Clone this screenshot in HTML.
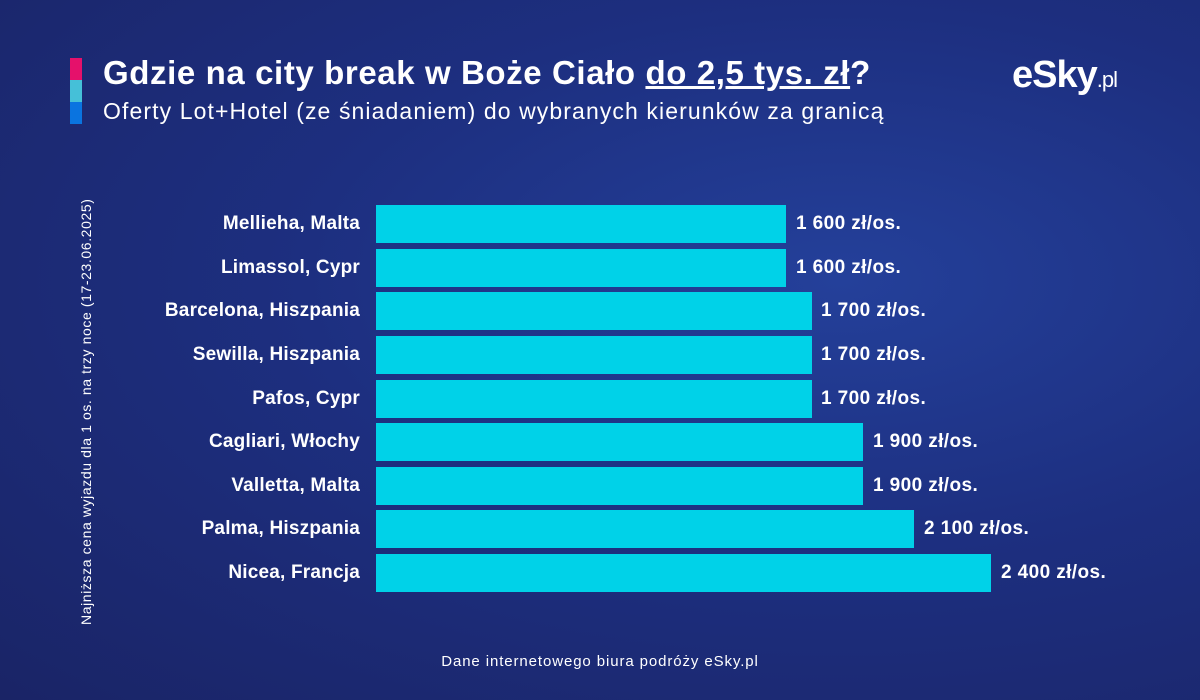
<!DOCTYPE html>
<html><head><meta charset="utf-8"><style>
body{margin:0;width:1200px;height:700px;overflow:hidden;font-family:"Liberation Sans",sans-serif}
.bg{position:absolute;left:0;top:0;width:1200px;height:700px;background:radial-gradient(ellipse at 70% 40%,#24409a 0%,#1d2f80 45%,#1a2466 100%)}
.t{position:absolute;color:#fff;white-space:nowrap}
.bar{position:absolute;left:376px;height:38px;background:#00d2e8}
.lab{position:absolute;right:840px;color:#fff;font-weight:bold;font-size:19px;line-height:38px;white-space:nowrap;letter-spacing:0.2px}
.val{position:absolute;color:#fff;font-weight:bold;font-size:19px;line-height:38px;white-space:nowrap;letter-spacing:0.4px}
</style></head><body><div class="bg"></div>
<div style="position:absolute;left:70px;top:58px;width:12px;height:22px;background:#e5116b"></div>
<div style="position:absolute;left:70px;top:80px;width:12px;height:22px;background:#45c0d8"></div>
<div style="position:absolute;left:70px;top:102px;width:12px;height:22px;background:#0a74e0"></div>
<div class="t" style="left:103px;top:54px;font-size:33px;font-weight:bold;letter-spacing:0.6px">Gdzie na city break w Boże Ciało <u>do 2,5 tys. zł</u>?</div>
<div class="t" style="left:103px;top:98px;font-size:23px;letter-spacing:1.1px">Oferty Lot+Hotel (ze śniadaniem) do wybranych kierunków za granicą</div>
<div class="t" style="left:1012px;top:54px;font-size:38px;font-weight:bold;letter-spacing:-1px">eSky<span style="font-size:22px;font-weight:normal">.pl</span></div>
<div class="t" style="left:78px;top:625px;font-size:14px;letter-spacing:0.6px;transform:rotate(-90deg);transform-origin:0 0">Najniższa cena wyjazdu dla 1 os. na trzy noce (17-23.06.2025)</div>
<div class="bar" style="top:205px;width:410px"></div><div class="lab" style="top:205px">Mellieha, Malta</div><div class="val" style="top:205px;left:796px">1 600 zł/os.</div>
<div class="bar" style="top:249px;width:410px"></div><div class="lab" style="top:249px">Limassol, Cypr</div><div class="val" style="top:249px;left:796px">1 600 zł/os.</div>
<div class="bar" style="top:292px;width:436px"></div><div class="lab" style="top:292px">Barcelona, Hiszpania</div><div class="val" style="top:292px;left:821px">1 700 zł/os.</div>
<div class="bar" style="top:336px;width:436px"></div><div class="lab" style="top:336px">Sewilla, Hiszpania</div><div class="val" style="top:336px;left:821px">1 700 zł/os.</div>
<div class="bar" style="top:380px;width:436px"></div><div class="lab" style="top:380px">Pafos, Cypr</div><div class="val" style="top:380px;left:821px">1 700 zł/os.</div>
<div class="bar" style="top:423px;width:487px"></div><div class="lab" style="top:423px">Cagliari, Włochy</div><div class="val" style="top:423px;left:873px">1 900 zł/os.</div>
<div class="bar" style="top:467px;width:487px"></div><div class="lab" style="top:467px">Valletta, Malta</div><div class="val" style="top:467px;left:873px">1 900 zł/os.</div>
<div class="bar" style="top:510px;width:538px"></div><div class="lab" style="top:510px">Palma, Hiszpania</div><div class="val" style="top:510px;left:924px">2 100 zł/os.</div>
<div class="bar" style="top:554px;width:615px"></div><div class="lab" style="top:554px">Nicea, Francja</div><div class="val" style="top:554px;left:1001px">2 400 zł/os.</div>
<div class="t" style="left:0;width:1200px;text-align:center;top:653px;font-size:15px;letter-spacing:0.9px">Dane internetowego biura podróży eSky.pl</div>
</body></html>
